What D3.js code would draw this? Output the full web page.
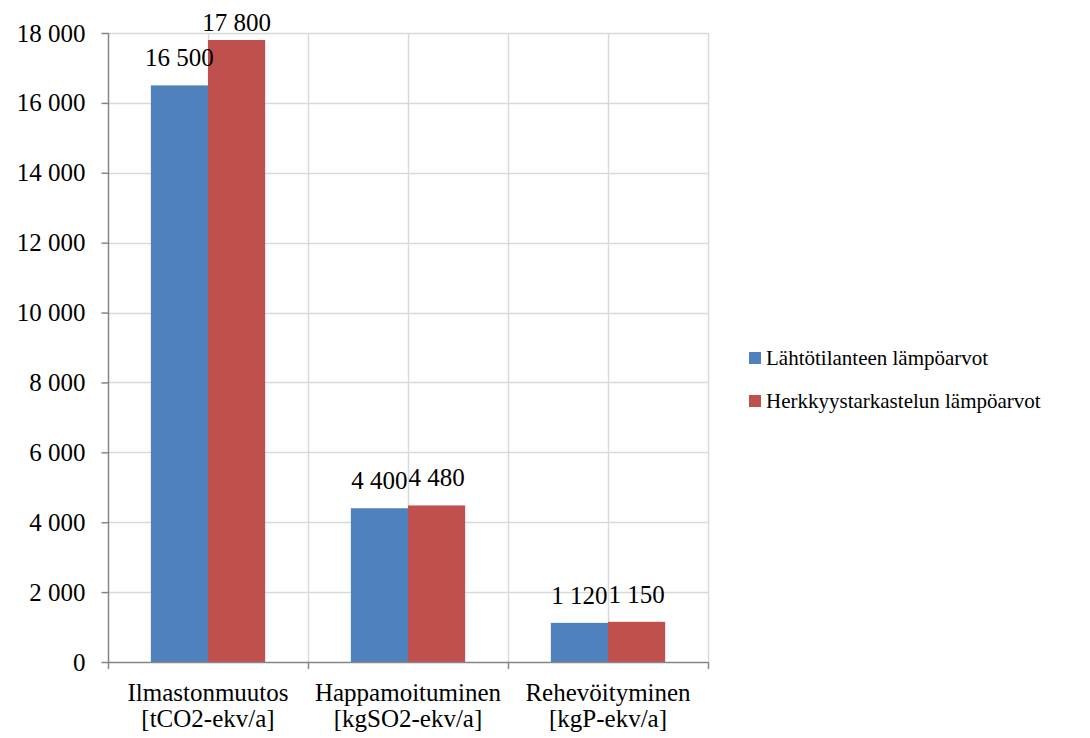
<!DOCTYPE html>
<html>
<head>
<meta charset="utf-8">
<script src="https://cdn.jsdelivr.net/npm/d3@7/dist/d3.min.js"></script>
</head>
<body style="margin:0">
<svg id="chart" width="1090" height="738" font-family="Liberation Serif"></svg>
<script>
const categories = [
  ["Ilmastonmuutos", "[tCO2-ekv/a]"],
  ["Happamoituminen", "[kgSO2-ekv/a]"],
  ["Rehevöityminen", "[kgP-ekv/a]"]
];
const seriesNames = ["Lähtötilanteen lämpöarvot", "Herkkyystarkastelun lämpöarvot"];
const baseValues = [16500, 4400, 1120];
const sensitivityValues = [17800, 4480, 1150];
const yTicks = [0, 2000, 4000, 6000, 8000, 10000, 12000, 14000, 16000, 18000];
const colors = ["#4F81BD", "#C0504D"];

const FONT = "'Liberation Serif'";
const svg = d3.select("#chart");
const m = { left: 108, right: 708, top: 33, bottom: 662 };

const x = d3.scaleBand().domain(d3.range(categories.length)).range([m.left, m.right]).paddingInner(0).paddingOuter(0);
const inner = d3.scaleBand().domain(d3.range(seriesNames.length)).range([0, x.bandwidth()]).paddingInner(0).paddingOuter(0.75);
const y = d3.scaleLinear().domain([0, 18000]).range([m.bottom, m.top]);

const fmt = v => d3.format(",")(v).replace(/,/g, " ");

// horizontal gridlines
svg.append("g").selectAll("line").data(yTicks.filter(t => t > 0)).join("line")
  .attr("x1", m.left).attr("x2", m.right)
  .attr("y1", d => Math.round(y(d)) + 0.5).attr("y2", d => Math.round(y(d)) + 0.5)
  .attr("stroke", "#D9D9D9").attr("stroke-width", 1.5);

// vertical gridlines at band centres and band edges
const vLines = [];
categories.forEach((c, i) => { vLines.push(x(i) + x.bandwidth() / 2); vLines.push(x(i) + x.bandwidth()); });
svg.append("g").selectAll("line").data(vLines).join("line")
  .attr("x1", d => Math.round(d) + 0.5).attr("x2", d => Math.round(d) + 0.5)
  .attr("y1", m.top).attr("y2", m.bottom)
  .attr("stroke", "#D9D9D9").attr("stroke-width", 1.5);

// bars
const series = [baseValues, sensitivityValues];
series.forEach((vals, s) => {
  svg.append("g").selectAll("rect").data(vals).join("rect")
    .attr("x", (d, i) => x(i) + inner(s))
    .attr("width", inner.bandwidth())
    .attr("y", d => y(d))
    .attr("height", d => y(0) - y(d))
    .attr("fill", colors[s]);
});

// value labels
series.forEach((vals, s) => {
  svg.append("g").selectAll("text").data(vals).join("text")
    .attr("x", (d, i) => x(i) + inner(s) + inner.bandwidth() / 2)
    .attr("y", d => Math.max(y(d) - 19, 31))
    .attr("text-anchor", "middle")
    .style("font-family", FONT).style("font-size", "25px").style("fill", "#000")
    .text(d => fmt(d));
});

// y axis
const yAxis = svg.append("g").attr("transform", `translate(${m.left + 0.5},0)`)
  .call(d3.axisLeft(y).tickValues(yTicks).tickSize(7).tickPadding(16).tickFormat(fmt))
  .attr("font-family", "Liberation Serif").attr("font-size", 25);
yAxis.selectAll("line, path").attr("stroke", "#868686").attr("stroke-width", 1.5);
yAxis.select(".domain").attr("d", `M0,${m.top}V${m.bottom}`);
yAxis.selectAll("text").style("font-family", FONT).style("font-size", "25px").style("fill", "#000");

// x axis
const xg = svg.append("g");
xg.append("line").attr("x1", m.left).attr("x2", m.right)
  .attr("y1", m.bottom + 0.5).attr("y2", m.bottom + 0.5)
  .attr("stroke", "#868686").attr("stroke-width", 1.5);
const xTickPos = [m.left].concat(categories.map((c, i) => x(i) + x.bandwidth()));
xg.selectAll(".tk").data(xTickPos).join("line").attr("class", "tk")
  .attr("x1", d => Math.round(d) + 0.5).attr("x2", d => Math.round(d) + 0.5)
  .attr("y1", m.bottom).attr("y2", m.bottom + 7)
  .attr("stroke", "#868686").attr("stroke-width", 1.5);
categories.forEach((c, i) => {
  const cx = x(i) + x.bandwidth() / 2;
  c.forEach((line, k) => {
    xg.append("text").attr("x", cx).attr("y", 701 + k * 26)
      .attr("text-anchor", "middle")
      .style("font-family", FONT).style("font-size", "25px").style("fill", "#000")
      .text(line);
  });
});

// legend
seriesNames.forEach((name, i) => {
  const lg = svg.append("g").attr("transform", `translate(749,${352 + i * 43})`);
  lg.append("rect").attr("width", 12).attr("height", 12).attr("fill", colors[i]);
  lg.append("text").attr("x", 17).attr("y", 13)
    .style("font-family", FONT).style("font-size", "21px").style("fill", "#000")
    .text(name);
});
</script>
</body>
</html>
